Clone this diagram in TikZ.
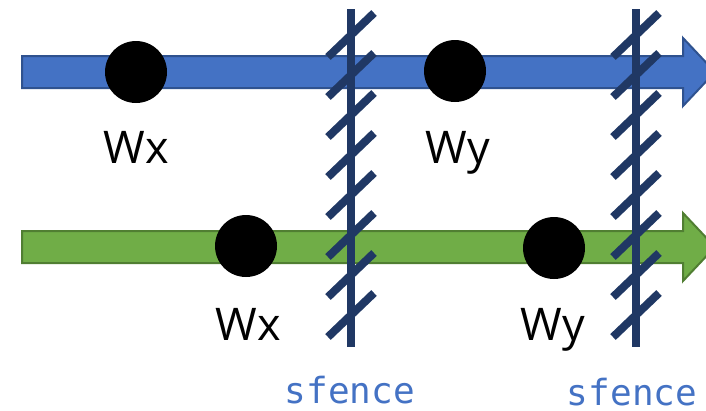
\documentclass[tikz,border=0pt]{standalone}
\usepackage{fontspec}
\setmainfont{Open Sans}
\setmonofont{DejaVu Sans Mono}

\definecolor{laneblue}{HTML}{4472C4}
\definecolor{laneblueedge}{HTML}{2F528F}
\definecolor{lanegreen}{HTML}{70AD47}
\definecolor{lanegreenedge}{HTML}{507E32}
\definecolor{fencenavy}{HTML}{203864}

\tikzset{
  lanearrow/.style={line width=2pt, line join=miter},
  fenceline/.style={line width=8pt, fencenavy},
  storedot/.style={circle, fill=black, inner sep=0pt, minimum size=62pt},
  storelbl/.style={anchor=base, inner sep=0pt, font=\fontsize{45}{45}\selectfont},
  fencelbl/.style={anchor=base, inner sep=0pt, text=laneblue, font=\ttfamily\fontsize{36}{36}\selectfont}
}

\begin{document}
\begin{tikzpicture}[x=1pt,y=-1pt]
\useasboundingbox (0,0) rectangle (706,410);
\clip (0,0) rectangle (706,410);

% the two lanes
\draw[lanearrow, draw=laneblueedge, fill=laneblue]
  (22,56) -- (683,56) -- (683,38) -- (715,72) -- (683,106) -- (683,88) -- (22,88) -- cycle;
\draw[lanearrow, draw=lanegreenedge, fill=lanegreen]
  (22,231) -- (683,231) -- (683,213) -- (715,247) -- (683,281) -- (683,263) -- (22,263) -- cycle;

% fences across both lanes
\foreach \fx in {351,636} {
  \draw[fenceline] (\fx,9) -- (\fx,347);
  \foreach \fy in {35,75,...,315}
    \draw[fenceline] (\fx-23,\fy+22) -- (\fx+23,\fy-22);
}

% stores on each lane
\node[storedot] (wxtop) at (136,72) {};
\node[storedot] (wytop) at (455,71) {};
\node[storedot] (wxbot) at (246,246) {};
\node[storedot] (wybot) at (554,248) {};

\node[storelbl] (wxtoplbl) at (136,163) {Wx};
\node[storelbl] (wytoplbl) at (458,163) {Wy};
\node[storelbl] (wxbotlbl) at (248,340) {Wx};
\node[storelbl] (wybotlbl) at (553,340) {Wy};

\node[fencelbl] (fenceonelbl) at (350,403) {sfence};
\node[fencelbl] (fencetwolbl) at (632,405) {sfence};
\end{tikzpicture}
\end{document}
